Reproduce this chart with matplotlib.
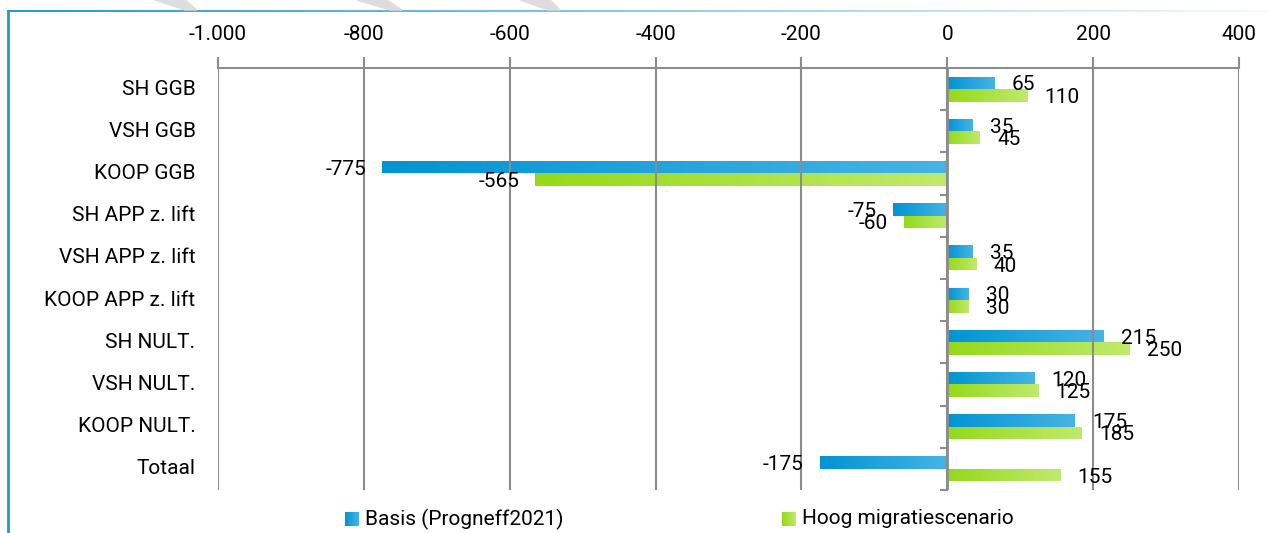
import matplotlib
matplotlib.use("Agg")
import matplotlib.pyplot as plt
import matplotlib.transforms as mtransforms
from matplotlib.colors import LinearSegmentedColormap
from matplotlib.patches import Polygon
from matplotlib.lines import Line2D
from matplotlib.ticker import FuncFormatter
import numpy as np

plt.rcParams['font.family'] = ['Roboto', 'DejaVu Sans']

# ---- data ----
categories = ["SH GGB", "VSH GGB", "KOOP GGB", "SH APP z. lift", "VSH APP z. lift",
              "KOOP APP z. lift", "SH NULT.", "VSH NULT.", "KOOP NULT.", "Totaal"]
basis = [65, 35, -775, -75, 35, 30, 215, 120, 175, -175]
hoog = [110, 45, -565, -60, 40, 30, 250, 125, 185, 155]
series_names = ["Basis (Progneff2021)", "Hoog migratiescenario"]
x_ticks = [-1000, -800, -600, -400, -200, 0, 200, 400]

# ---- style ----
blue_cmap = LinearSegmentedColormap.from_list("b", ["#0094D4", "#46B4E4"])
green_cmap = LinearSegmentedColormap.from_list("g", ["#94D91A", "#C0EA6C"])
border_cmap = LinearSegmentedColormap.from_list("br", [(0.12, 0.61, 0.84, 1.0), (0.12, 0.61, 0.84, 0.05)])
grid_col = "#8C8C8C"
fs = 15
bar_h = 0.295

W, H = 1267, 533
fig = plt.figure(figsize=(W / 100, H / 100), dpi=100)
ax = fig.add_axes([218 / W, 1 - 490 / H, (1239 - 218) / W, (490 - 68) / H])

grad = np.linspace(0, 1, 256).reshape(1, -1)
ypos = np.arange(len(categories))


def grad_bars(vals, offset, cmap):
    bars = ax.barh(ypos + offset, vals, height=bar_h, color="none", edgecolor="none", zorder=2)
    for b in bars:
        x0, y0 = b.get_x(), b.get_y()
        w, h = b.get_width(), b.get_height()
        xl, xr = min(x0, x0 + w), max(x0, x0 + w)
        im = ax.imshow(grad, cmap=cmap, aspect="auto", extent=[xl, xr, y0 + h, y0],
                       zorder=2, interpolation="bicubic")
        im.set_clip_path(b)
    return bars


grad_bars(basis, -bar_h / 2, blue_cmap)
grad_bars(hoog, bar_h / 2, green_cmap)

ax.set_xlim(-1000, 400)
ax.set_ylim(len(categories) - 0.5, -0.5)

# value labels
off = mtransforms.offset_copy
for vals, dy in [(basis, -bar_h / 2), (hoog, bar_h / 2)]:
    for i, v in enumerate(vals):
        if v >= 0:
            tr = off(ax.transData, fig=fig, x=17, y=-2, units="dots")
            ax.text(v, i + dy, f"{v}", transform=tr, ha="left", va="center", fontsize=fs, zorder=5)
        else:
            tr = off(ax.transData, fig=fig, x=-16, y=-2, units="dots")
            ax.text(v, i + dy, f"{v}", transform=tr, ha="right", va="center", fontsize=fs, zorder=5)

# category labels
ax.set_yticks([])
for i, c in enumerate(categories):
    ax.text(-0.022, i, c, transform=ax.get_yaxis_transform(), ha="right", va="center", fontsize=fs)

# top x axis
ax.xaxis.tick_top()
ax.set_xticks(x_ticks)
ax.xaxis.set_major_formatter(FuncFormatter(lambda v, p: f"{int(v):,}".replace(",", ".")))
ax.tick_params(axis="x", length=8, width=1.5, color=grid_col, labelsize=fs, pad=9)
ax.grid(axis="x", color=grid_col, linewidth=1.5, zorder=3)
ax.set_axisbelow(False)

for s in ["left", "right", "bottom"]:
    ax.spines[s].set_visible(False)
ax.spines["top"].set_color(grid_col)
ax.spines["top"].set_linewidth(1.5)

# zero axis with ticks between categories
ax.axvline(0, color=grid_col, linewidth=2, zorder=4)
for b in np.arange(0.5, len(categories) + 0.5, 1.0):
    ax.add_line(Line2D([-9, 0], [b, b], color=grid_col, linewidth=1.5, zorder=4, clip_on=False))

# legend (manual)
for x0, cmap, name in [(345, blue_cmap, series_names[0]), (782, green_cmap, series_names[1])]:
    lax = fig.add_axes([x0 / W, 1 - 526 / H, 14 / W, 14 / H])
    lax.imshow(grad, cmap=cmap, aspect="auto")
    lax.axis("off")
    fig.text((x0 + 20) / W, 1 - 519 / H, name, ha="left", va="center", fontsize=fs)

# frame decoration: blue border lines and grey stripes
fig.add_artist(Line2D([8 / W, 8 / W], [0, 1 - 11 / H], color="#1E9BD7", linewidth=2))
bax = fig.add_axes([7 / W, 1 - 12 / H, (W - 7) / W, 2 / H])
bax.imshow(grad, cmap=border_cmap, aspect="auto")
bax.axis("off")
for xa, xb in [(155, 185), (357, 390), (520, 548)]:
    fig.add_artist(Polygon([[xa / W, 1], [(xa + 30) / W, 1], [(xb + 12) / W, 1 - 10 / H], [xb / W, 1 - 10 / H]],
                           closed=True, color="#DDDDDD", transform=fig.transFigure))

fig.savefig("out.png", dpi=100)
